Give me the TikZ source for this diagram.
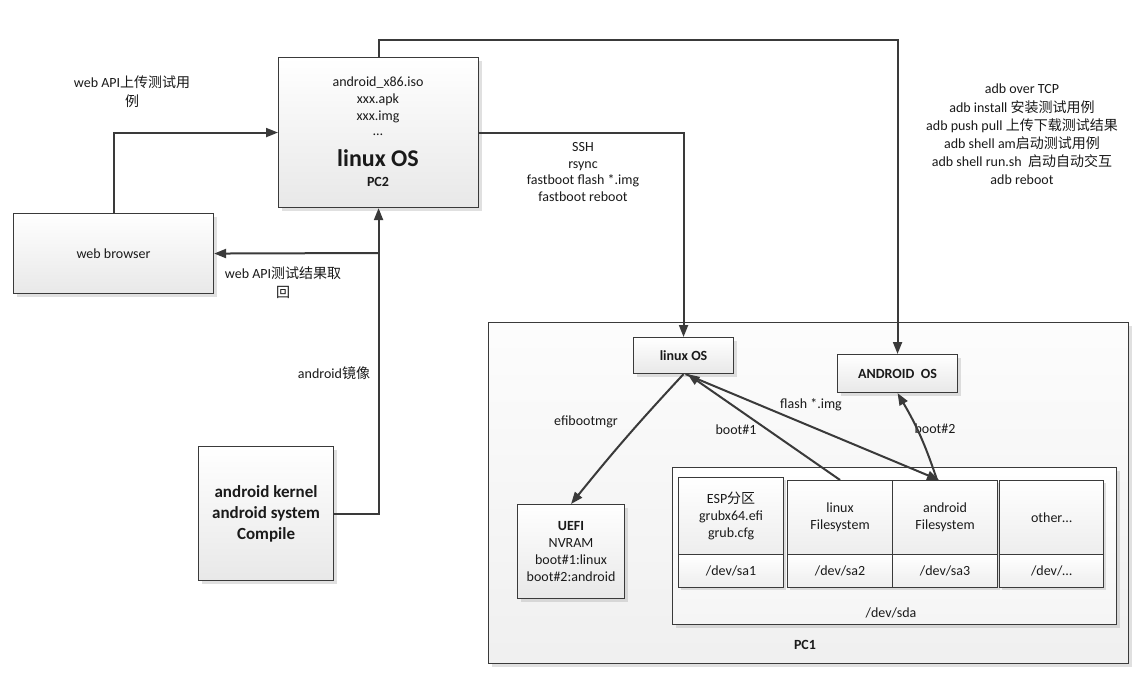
\documentclass[tikz,border=0pt]{standalone}
\usepackage{fontspec}
\setmainfont{Carlito}
\newfontfamily\cjk{Noto Sans CJK SC}
\usetikzlibrary{shadows,arrows.meta}
\definecolor{ln}{HTML}{3A3A3A}
\definecolor{txt}{HTML}{1A1A1A}
\tikzset{
  every node/.style={text=txt, inner sep=0pt},
  box/.style={draw=ln, line width=1.1pt, top color=white, bottom color=black!9,
    drop shadow={shadow xshift=3pt, shadow yshift=-3pt, fill=black!40, opacity=0.3},
    anchor=north west, align=center, font=\fontsize{14}{17}\selectfont},
  part/.style={draw=ln, line width=1.1pt, top color=white, bottom color=black!7,
    anchor=north west, align=center, font=\fontsize{14}{17}\selectfont},
  conn/.style={draw=ln, line width=2pt, -{Triangle[length=12pt,width=9pt]}},
  lbl/.style={font=\fontsize{14}{17}\selectfont, align=center},
}
\begin{document}
\begin{tikzpicture}[x=1pt,y=-1pt]
\useasboundingbox[fill=white] (0,0) rectangle (1141,675);

% PC2 side
\node[box, minimum width=200pt, minimum height=150pt] (pc2) at (278,57) {};
\node[lbl] (pc2files) at (378,107) {android\_x86.iso\\xxx.apk\\xxx.img\\\raisebox{2pt}{…}};
\node[font=\bfseries\fontsize{24}{28}\selectfont] (pc2name) at (378,158) {linux OS};
\node[font=\bfseries\fontsize{14}{17}\selectfont] (pc2lbl) at (378,182) {PC2};

\node[box, minimum width=200pt, minimum height=80pt] (web) at (13,213) {web browser};
\node[box, minimum width=135pt, minimum height=134pt,
      font=\bfseries\fontsize{17}{21}\selectfont] (comp) at (198,446)
      {android kernel\\android system\\Compile};

% PC1 side
\node[box, minimum width=640pt, minimum height=341pt, top color=black!1, bottom color=black!6] (pc1) at (488,322) {};
\node[font=\bfseries\fontsize{14}{17}\selectfont] (pc1lbl) at (805,645) {PC1};
\node[box, minimum width=100pt, minimum height=36pt, font=\bfseries\fontsize{14}{17}\selectfont] (los) at (633,337) {linux OS};
\node[box, minimum width=120pt, minimum height=38pt, font=\bfseries\fontsize{14}{17}\selectfont] (aos) at (837,354) {ANDROID~~OS};
\node[box, minimum width=107pt, minimum height=94pt] (uefi) at (517,504)
      {\textbf{UEFI}\\NVRAM\\boot\#1:linux\\boot\#2:android};

\node[box, minimum width=444pt, minimum height=157pt, top color=white, bottom color=black!4] (sda) at (672,467) {};
\node[lbl] (sdalbl) at (891,613) {/dev/sda};

\fill[black!40, opacity=0.3] (681,480) rectangle (786,590);
\fill[black!40, opacity=0.3] (790,483) rectangle (1000,590);
\fill[black!40, opacity=0.3] (1002,483) rectangle (1106,590);
\node[part, minimum width=105pt, minimum height=77pt] (esp) at (678,477) {ESP{\cjk 分区}\\grubx64.efi\\grub.cfg};
\node[part, minimum width=105pt, minimum height=33pt] (sa1) at (678,554) {/dev/sa1};
\node[part, minimum width=105pt, minimum height=74pt] (lfs) at (787,480) {linux\\Filesystem};
\node[part, minimum width=105pt, minimum height=33pt] (sa2) at (787,554) {/dev/sa2};
\node[part, minimum width=105pt, minimum height=74pt] (afs) at (892,480) {android\\Filesystem};
\node[part, minimum width=105pt, minimum height=33pt] (sa3) at (892,554) {/dev/sa3};
\node[part, minimum width=104pt, minimum height=74pt] (oth) at (999,480) {other…};
\node[part, minimum width=104pt, minimum height=33pt] (sax) at (999,554) {/dev/…};

% labels
\node[lbl, font=\fontsize{14}{19}\selectfont] (l1) at (132,92) {web API{\cjk 上传测试用}\\{\cjk 例}};
\node[lbl, font=\fontsize{14}{19}\selectfont] (l2) at (283,283) {web API{\cjk 测试结果取}\\{\cjk 回}};
\node[lbl] (l3) at (334,373) {android{\cjk 镜像}};
\node[lbl, font=\fontsize{14}{16.7}\selectfont] (l4) at (583,172)
  {SSH\\rsync\\fastboot flash *.img\\fastboot reboot};
\node[lbl, font=\fontsize{14}{18.2}\selectfont] (l5) at (1022,134.5)
  {adb over TCP\\adb install {\cjk 安装测试用例}\\adb push pull {\cjk 上传下载测试结果}\\adb shell am{\cjk 启动测试用例}\\adb shell run.sh\ \ {\cjk 启动自动交互}\\adb reboot};
\node[lbl] (l6) at (586,422) {efibootmgr};
\node[lbl] (l7) at (736,430) {boot\#1};
\node[lbl] (l8) at (811,405) {flash *.img};
\node[lbl] (l9) at (935,429) {boot\#2};

% connectors
\coordinate (jn) at (378,253);
\draw[conn] (web.north) |- (pc2.west);
\draw[conn] (comp.east) -| (pc2.south);
\draw[conn] (jn) -- (web.east);
\draw[conn] (pc2.north) -- ++(0,-17) -| (aos.north);
\draw[conn] (pc2.east) -| (los.north);
\draw[conn] (los.south) to[bend right=2] (uefi.north);
\draw[conn] (lfs.north) -- ([xshift=4pt]los.south);
\draw[conn] ([xshift=2pt]los.south) -- ([xshift=-6pt]afs.north);
\draw[conn] ([xshift=-8pt]afs.north) to[bend right=6] (aos.south);
\end{tikzpicture}
\end{document}
